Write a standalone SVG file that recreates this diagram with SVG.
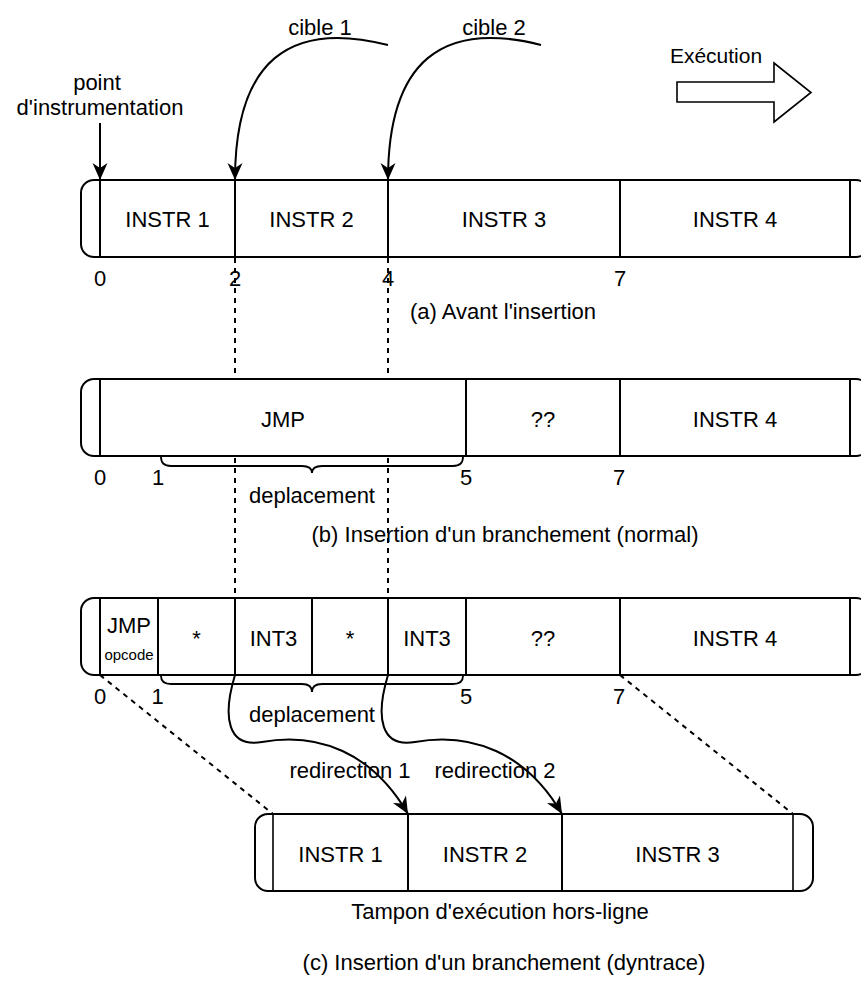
<svg xmlns="http://www.w3.org/2000/svg" width="861" height="981" viewBox="0 0 861 981">
  <style>
    .box { fill: #fff; stroke: #000; stroke-width: 2; }
    .sep { stroke: #000; stroke-width: 2; fill: none; }
    .thin { stroke: #000; stroke-width: 1.6; fill: none; }
    .t { font-family: "Liberation Sans", Arial, Helvetica, sans-serif; font-size: 22px; fill: #000; text-anchor: middle; }
    .small { font-size: 15px; }
    .dash { stroke: #000; stroke-width: 2; stroke-dasharray: 5 5; fill: none; }
    .wire { stroke: #000; stroke-width: 2; fill: none; }
    .brace { stroke: #000; stroke-width: 1.8; fill: none; }
  </style>
  <defs>
    <marker id="arr" markerUnits="userSpaceOnUse" markerWidth="20" markerHeight="18" viewBox="-18 -9 20 18" refX="0" refY="0" orient="auto">
      <path d="M0,0 L-17,-7.5 L-12,0 L-17,7.5 Z" fill="#000"/>
    </marker>
  </defs>

  <rect width="861" height="981" fill="#fff"/>

  <!-- guide lines and arrows -->
  <g id="connectors">
    <path class="dash" d="M235,258 V598"/>
    <path class="dash" d="M388,258 V598"/>
    <path class="dash" d="M100,675 L273,814"/>
    <path class="dash" d="M620,675 L793,814"/>
    <path class="wire" d="M100,123 V180" marker-end="url(#arr)"/>
    <path class="wire" d="M388,45 C290,20 235,60 235,180" marker-end="url(#arr)"/>
    <path class="wire" d="M541,45 C443,20 388,60 388,180" marker-end="url(#arr)"/>
    <path class="wire" d="M235,675 C222,718 228,748 262,742 C318,732 372,752 408,814" marker-end="url(#arr)"/>
    <path class="wire" d="M388,675 C375,718 381,748 415,742 C471,732 526,752 562,814" marker-end="url(#arr)"/>
  </g>

  <!-- top annotations -->
  <g id="instr-point">
    <text class="t" x="97" y="90">point</text>
    <text class="t" x="100" y="115">d'instrumentation</text>
  </g>
  <g id="targets">
    <text class="t" x="320" y="35">cible 1</text>
    <text class="t" x="494" y="35">cible 2</text>
  </g>
  <g id="execution">
    <text class="t" x="716" y="63" style="font-size:21px">Exécution</text>
    <polygon points="677,82 774,82 774,63 811,92.5 774,122 774,102 677,102" fill="#fff" stroke="#000" stroke-width="1.6"/>
  </g>

  <!-- (a) before insertion -->
  <g id="row-a">
    <rect class="box" x="81" y="180" width="788" height="77" rx="13"/>
    <path class="sep" d="M100,180 V257 M235,180 V257 M388,180 V257 M620,180 V257 M850,180 V257"/>
    <text class="t" x="167.5" y="227">INSTR 1</text>
    <text class="t" x="311.5" y="227">INSTR 2</text>
    <text class="t" x="504" y="227">INSTR 3</text>
    <text class="t" x="735" y="227">INSTR 4</text>
    <text class="t" x="100" y="286">0</text>
    <text class="t" x="235" y="286">2</text>
    <text class="t" x="388" y="286">4</text>
    <text class="t" x="620" y="286">7</text>
    <text class="t" x="503" y="319">(a) Avant l'insertion</text>
  </g>

  <!-- (b) normal branch -->
  <g id="row-b">
    <rect class="box" x="81" y="379" width="788" height="77" rx="13"/>
    <path class="sep" d="M100,379 V456 M466,379 V456 M620,379 V456 M850,379 V456"/>
    <text class="t" x="283" y="427">JMP</text>
    <text class="t" x="543" y="427">??</text>
    <text class="t" x="735" y="427">INSTR 4</text>
    <path class="brace" d="M161,457 Q161,466 171,466 L302,466 Q312,466 312,473 Q312,466 322,466 L453,466 Q463,466 463,457"/>
    <text class="t" x="100" y="485">0</text>
    <text class="t" x="158" y="485">1</text>
    <text class="t" x="466" y="485">5</text>
    <text class="t" x="619" y="485">7</text>
    <text class="t" x="312" y="503">deplacement</text>
    <text class="t" x="505" y="542">(b) Insertion d'un branchement (normal)</text>
  </g>

  <!-- (c) dyntrace branch -->
  <g id="row-c">
    <rect class="box" x="81" y="598" width="788" height="77" rx="13"/>
    <path class="sep" d="M100,598 V675 M158,598 V675 M235,598 V675 M312,598 V675 M388,598 V675 M466,598 V675 M620,598 V675 M850,598 V675"/>
    <text class="t" x="129" y="633">JMP</text>
    <text class="t small" x="129" y="660">opcode</text>
    <text class="t" x="196.5" y="646">*</text>
    <text class="t" x="273.5" y="646">INT3</text>
    <text class="t" x="350" y="646">*</text>
    <text class="t" x="427" y="646">INT3</text>
    <text class="t" x="543" y="646">??</text>
    <text class="t" x="735" y="646">INSTR 4</text>
    <path class="brace" d="M161,676 Q161,684 171,684 L302,684 Q312,684 312,692 Q312,684 322,684 L453,684 Q463,684 463,676"/>
    <text class="t" x="100" y="704">0</text>
    <text class="t" x="157.5" y="704">1</text>
    <text class="t" x="466" y="704">5</text>
    <text class="t" x="619" y="704">7</text>
    <text class="t" x="312" y="722">deplacement</text>
    <text class="t" x="350" y="778">redirection 1</text>
    <text class="t" x="495" y="778">redirection 2</text>
  </g>

  <!-- out-of-line execution buffer -->
  <g id="buffer">
    <rect class="box" x="255" y="814" width="558" height="77" rx="13"/>
    <path class="thin" d="M273,814 V891 M793,814 V891"/>
    <path class="sep" d="M408,814 V891 M562,814 V891"/>
    <text class="t" x="340.5" y="862">INSTR 1</text>
    <text class="t" x="485" y="862">INSTR 2</text>
    <text class="t" x="677.5" y="862">INSTR 3</text>
    <text class="t" x="500" y="919">Tampon d'exécution hors-ligne</text>
    <text class="t" x="504" y="970">(c) Insertion d'un branchement (dyntrace)</text>
  </g>
</svg>
